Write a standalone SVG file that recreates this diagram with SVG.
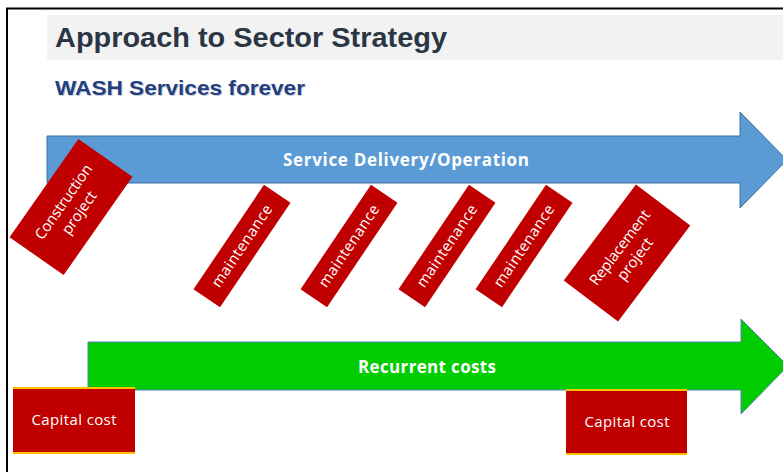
<svg xmlns="http://www.w3.org/2000/svg" width="783" height="472" viewBox="0 0 783 472">
<style>
.box{fill:#c00000;}
.bt{fill:#ffffff;font-family:"Open Sans","Liberation Sans",sans-serif;font-size:15px;text-anchor:middle;}
.at{fill:#ffffff;font-family:"Open Sans","Liberation Sans",sans-serif;font-size:17px;font-weight:bold;text-anchor:middle;}
.gold{stroke:#ffc000;stroke-width:2;}
</style>
<rect x="0" y="0" width="783" height="472" fill="#ffffff"/>
<path d="M7 472 V8.5 H783" fill="none" stroke="#000000" stroke-width="2"/>
<g id="title">
<rect x="47" y="15" width="736" height="45" fill="#f2f2f2"/>
<text x="55" y="47" font-family="Liberation Sans, Arial, sans-serif" font-size="28" font-weight="bold" fill="#2b3645" textLength="392" lengthAdjust="spacingAndGlyphs">Approach to Sector Strategy</text>
</g>
<g id="subtitle">
<text x="56" y="96" font-family="Liberation Sans, Arial, sans-serif" font-size="21" font-weight="bold" fill="#c8ccd6" textLength="250" lengthAdjust="spacingAndGlyphs">WASH Services forever</text>
<text x="55" y="95" font-family="Liberation Sans, Arial, sans-serif" font-size="21" font-weight="bold" fill="#243f7e" textLength="250" lengthAdjust="spacingAndGlyphs">WASH Services forever</text>
</g>
<g id="connectors">
<g id="service-arrow">
<polygon points="47,136 740,136 740,112 787,160 740,208 740,183 47,183" fill="#5b9bd5" stroke="#41719c" stroke-width="1"/>
<text class="at" x="406" y="166" textLength="246">Service Delivery/Operation</text>
</g>
<g id="recurrent-arrow">
<polygon points="88,342 741,342 741,319 788,366 741,414 741,390 88,390" fill="#00cc00" stroke="#5a7fb0" stroke-width="1"/>
<text class="at" x="427" y="373" textLength="138">Recurrent costs</text>
</g>
</g>
<g id="construction">
<g transform="translate(71,207) rotate(-55)">
<rect class="box" x="-60" y="-33" width="120" height="66"/>
<text class="bt" x="0" y="-4" textLength="88">Construction</text>
<text class="bt" x="0" y="15">project</text>
</g>
</g>
<g id="maintenance1">
<g transform="translate(242,246) rotate(-56)">
<rect class="box" x="-63" y="-16" width="126" height="32"/>
<text class="bt" x="0" y="5" textLength="96">maintenance</text>
</g>
</g>
<g id="maintenance2">
<g transform="translate(349,246) rotate(-56)">
<rect class="box" x="-63" y="-16" width="126" height="32"/>
<text class="bt" x="0" y="5" textLength="96">maintenance</text>
</g>
</g>
<g id="maintenance3">
<g transform="translate(447,246) rotate(-56)">
<rect class="box" x="-63" y="-16" width="126" height="32"/>
<text class="bt" x="0" y="5" textLength="96">maintenance</text>
</g>
</g>
<g id="maintenance4">
<g transform="translate(524,246) rotate(-56)">
<rect class="box" x="-63" y="-16" width="126" height="32"/>
<text class="bt" x="0" y="5" textLength="96">maintenance</text>
</g>
</g>
<g id="replacement">
<g transform="translate(627,253) rotate(-53)">
<rect class="box" x="-60" y="-34" width="120" height="68"/>
<text class="bt" x="0" y="-4" textLength="90">Replacement</text>
<text class="bt" x="0" y="15">project</text>
</g>
</g>
<g id="capital1">
<rect class="box" x="13" y="387" width="122" height="66"/>
<line class="gold" x1="13" y1="388" x2="135" y2="388"/>
<line class="gold" x1="13" y1="453" x2="135" y2="453"/>
<text class="bt" x="74" y="425" textLength="85">Capital cost</text>
</g>
<g id="capital2">
<rect class="box" x="566" y="389" width="121" height="65"/>
<line class="gold" x1="566" y1="390" x2="687" y2="390"/>
<line class="gold" x1="566" y1="454" x2="687" y2="454"/>
<text class="bt" x="627" y="427" textLength="85">Capital cost</text>
</g>
</svg>
